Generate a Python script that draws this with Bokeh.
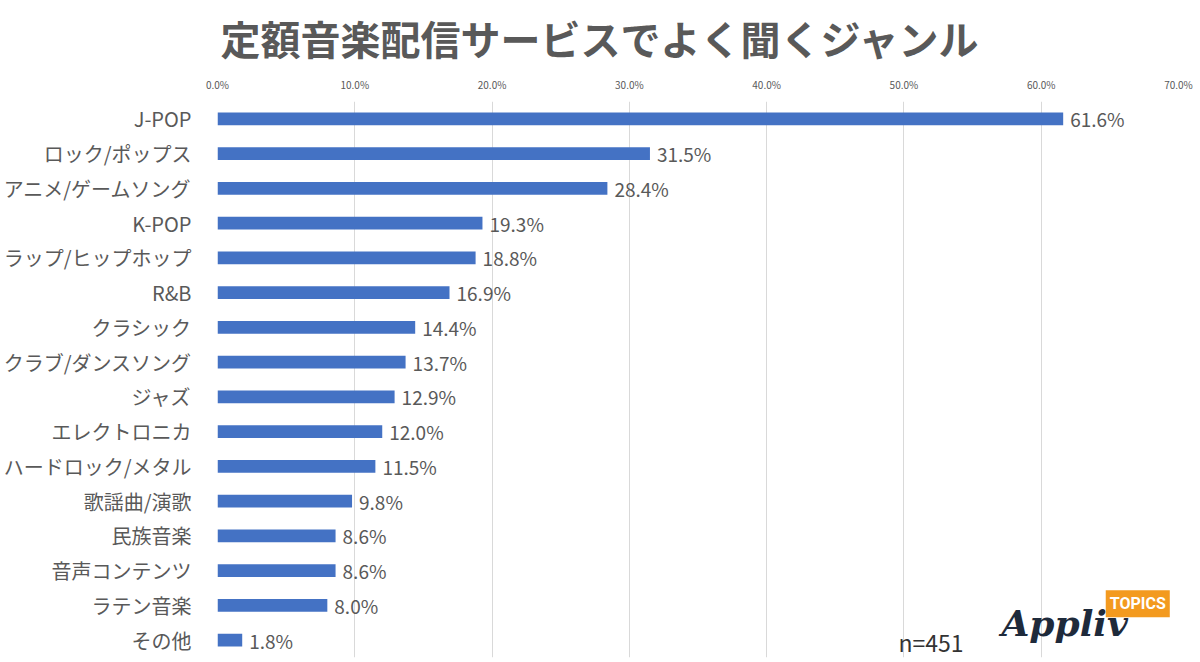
from bokeh.plotting import figure
from bokeh.models import (Range1d, FactorRange, FixedTicker, PrintfTickFormatter,
                          Label, ColumnDataSource, Title)
from bokeh.embed import file_html
from bokeh.resources import INLINE
from bokeh.core.properties import value

title_text = "定額音楽配信サービスでよく聞くジャンル"
categories = ["J-POP", "ロック/ポップス", "アニメ/ゲームソング", "K-POP",
              "ラップ/ヒップホップ", "R&B", "クラシック", "クラブ/ダンスソング",
              "ジャズ", "エレクトロニカ", "ハードロック/メタル", "歌謡曲/演歌",
              "民族音楽", "音声コンテンツ", "ラテン音楽", "その他"]
values = [61.6, 31.5, 28.4, 19.3, 18.8, 16.9, 14.4, 13.7,
          12.9, 12.0, 11.5, 9.8, 8.6, 8.6, 8.0, 1.8]
x_ticks = [0, 10, 20, 30, 40, 50, 60, 70]
sample_note = "n=451"

FONT = "Noto Sans CJK JP"
GRAY = "#595959"

src = ColumnDataSource(dict(
    cat=categories, v=values, lab=[f"{v:.1f}%" for v in values]))

p = figure(width=1200, height=662, output_backend="svg", toolbar_location=None,
           x_range=Range1d(0, 70), y_range=FactorRange(factors=categories[::-1]),
           x_axis_location="above",
           min_border_left=215, min_border_right=22, min_border_top=101,
           min_border_bottom=5)
p.outline_line_color = None
p.background_fill_color = "white"

p.hbar(y="cat", right="v", left=0, height=0.37, source=src,
       fill_color="#4472C4", line_color=None)
p.text(x="v", y="cat", text="lab", source=src, x_offset=7,
       text_baseline="middle", text_align="left",
       text_font=value(FONT), text_font_size="19px", text_color=GRAY)

xa = p.xaxis[0]
xa.ticker = FixedTicker(ticks=x_ticks)
xa.formatter = PrintfTickFormatter(format="%.1f%%")
xa.axis_line_color = None
xa.major_tick_line_color = None
xa.minor_tick_line_color = None
xa.major_label_text_font = FONT
xa.major_label_text_font_size = "10px"
xa.major_label_text_color = GRAY
xa.major_label_standoff = 4

ya = p.yaxis[0]
ya.axis_line_color = None
ya.major_tick_line_color = None
ya.minor_tick_line_color = None
ya.major_label_text_font = FONT
ya.major_label_text_font_size = "20px"
ya.major_label_text_color = GRAY
ya.major_label_standoff = 20

p.xgrid.ticker = FixedTicker(ticks=x_ticks)
p.xgrid.grid_line_color = "#d9d9d9"
p.ygrid.grid_line_color = None

# title
p.add_layout(Title(text=title_text, align="left", offset=3,
                   text_font=FONT, text_font_size="40px",
                   text_font_style="bold", text_color=GRAY, standoff=10,
                   vertical_align="top"),
             "above")
# sample size
p.add_layout(Label(x=49.6, y=0.45, text=sample_note,
                   text_align="left", text_baseline="middle", text_font=FONT,
                   text_font_size="23px", text_color="#333333"))
# logo
p.add_layout(Label(x=57.1, y=1.0, text="Appliv", text_align="left",
                   text_baseline="middle", text_font="DejaVu Serif",
                   text_font_size="36px", text_font_style="bold italic",
                   text_color="#1e2a3b"))
p.add_layout(Label(x=64.7, y=1.55, text="TOPICS", text_align="left",
                   text_baseline="middle", text_font="Roboto",
                   text_font_size="16px", text_font_style="bold",
                   text_color="white", background_fill_color="#f39a1f",
                   padding=4))

open("out.html", "w").write(file_html(p, INLINE))
